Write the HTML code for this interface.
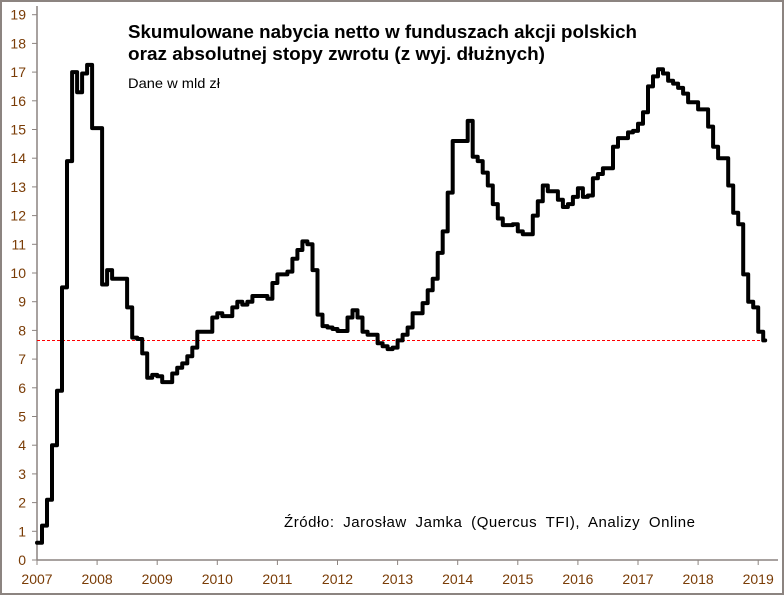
<!DOCTYPE html>
<html><head><meta charset="utf-8"><style>
html,body{margin:0;padding:0;background:#fff;}
svg{display:block;font-family:"Liberation Sans","Noto Sans CJK SC",sans-serif;}
</style></head><body>
<svg id="chart" width="784" height="595" viewBox="0 0 784 595" xmlns="http://www.w3.org/2000/svg">
<rect x="1" y="1" width="782" height="593" fill="#fff" stroke="#8c8480" stroke-width="2"/>
<g id="axes"></g>
<g id="marks"></g>
<text x="128" y="38" font-size="18" font-weight="bold" fill="#000" textLength="509" lengthAdjust="spacingAndGlyphs">Skumulowane nabycia netto w funduszach akcji polskich</text>
<text x="128" y="60" font-size="18" font-weight="bold" fill="#000" textLength="417" lengthAdjust="spacingAndGlyphs">oraz absolutnej stopy zwrotu  (z wyj. dłużnych)</text>
<text x="128" y="88" font-size="14" fill="#000" textLength="92" lengthAdjust="spacingAndGlyphs">Dane w mld zł</text>
<text x="284" y="527" font-size="15" fill="#000" word-spacing="4" textLength="411" lengthAdjust="spacing">Źródło: Jarosław Jamka (Quercus TFI), Analizy Online</text>
</svg>
<script>
const yearLabels = ["2007","2008","2009","2010","2011","2012","2013","2014","2015","2016","2017","2018","2019"];
const yTicks = [0,1,2,3,4,5,6,7,8,9,10,11,12,13,14,15,16,17,18,19];
const referenceLevel = 7.65;
const monthlyValues = [
0.6,1.2,2.1,4.0,5.9,9.5,13.9,17.0,16.3,16.95,17.25,15.05,
15.05,9.6,10.1,9.8,9.8,9.8,8.8,7.75,7.7,7.2,6.35,6.45,
6.4,6.2,6.2,6.5,6.7,6.85,7.1,7.4,7.95,7.95,7.95,8.45,
8.6,8.5,8.5,8.8,9.0,8.9,9.0,9.2,9.2,9.2,9.1,9.65,
9.95,9.95,10.05,10.5,10.8,11.1,11.0,10.1,8.55,8.15,8.1,8.05,
7.98,7.98,8.45,8.7,8.45,7.95,7.85,7.85,7.55,7.45,7.35,7.4,
7.65,7.85,8.1,8.6,8.6,8.95,9.4,9.8,10.7,11.45,12.8,14.6,
14.6,14.6,15.3,14.05,13.9,13.5,13.05,12.4,11.9,11.67,11.67,11.7,
11.45,11.35,11.35,12.0,12.5,13.05,12.85,12.85,12.55,12.3,12.4,12.65,
12.95,12.65,12.7,13.3,13.45,13.65,13.65,14.4,14.7,14.7,14.9,14.95,
15.2,15.6,16.5,16.85,17.1,16.95,16.7,16.6,16.45,16.25,15.95,15.95,
15.7,15.7,15.1,14.4,14.0,14.0,13.05,12.1,11.7,9.95,9.0,8.8,
7.95,7.65
];
const NS="http://www.w3.org/2000/svg";
const X0=37, PXYEAR=60.1, Y0=560, PXUNIT=28.7;
function xMonth(m){return X0+m*PXYEAR/12;}
function xYear(i){return X0+i*PXYEAR;}
function yVal(v){return Y0-v*PXUNIT;}
function mk(tag,attrs,parent){const e=document.createElementNS(NS,tag);for(const k in attrs)e.setAttribute(k,attrs[k]);parent.appendChild(e);return e;}
const axes=document.getElementById('axes'), marks=document.getElementById('marks');
const ax=mk('line',{x1:X0,y1:6,x2:X0,y2:Y0,stroke:'#8c8480','stroke-width':1.5},axes);


const bx=mk('line',{x1:X0,y1:Y0,x2:778,y2:Y0,stroke:'#8c8480','stroke-width':1.5},axes);


yTicks.forEach(v=>{
  const y=yVal(v);
  const t=mk('line',{x1:X0-5,y1:y,x2:X0,y2:y,stroke:'#8c8480','stroke-width':1},axes);
  
  
  const l=mk('text',{x:X0-11,y:y+5,'text-anchor':'end','font-size':14,fill:'#7a3c06'},axes);
  l.textContent=v;
  
  
});
yearLabels.forEach((s,i)=>{
  const x=xYear(i);
  const t=mk('line',{x1:x,y1:Y0,x2:x,y2:Y0+5,stroke:'#8c8480','stroke-width':1},axes);
  
  
  const l=mk('text',{x:x,y:Y0+24,'text-anchor':'middle','font-size':14,fill:'#7a3c06'},axes);
  l.textContent=s;
  
  
});
const n=monthlyValues.length;
const ref=mk('line',{x1:X0,y1:yVal(referenceLevel),x2:xMonth(n-1)+2,y2:yVal(referenceLevel),stroke:'#ff0000','stroke-width':1,'stroke-dasharray':'3,2'},marks);


let d='';
monthlyValues.forEach((v,m)=>{
  const y=yVal(v);
  const xs=xMonth(m), xe=(m===n-1)?xMonth(m)+2:xMonth(m+1);
  d+=(m===0?'M':'L')+xs.toFixed(1)+' '+y.toFixed(1)+' L'+xe.toFixed(1)+' '+y.toFixed(1)+' ';
});
const p=mk('path',{d:d,fill:'none',stroke:'#000','stroke-width':4,'stroke-linejoin':'round','stroke-linecap':'round'},marks);


</script>
</body></html>
